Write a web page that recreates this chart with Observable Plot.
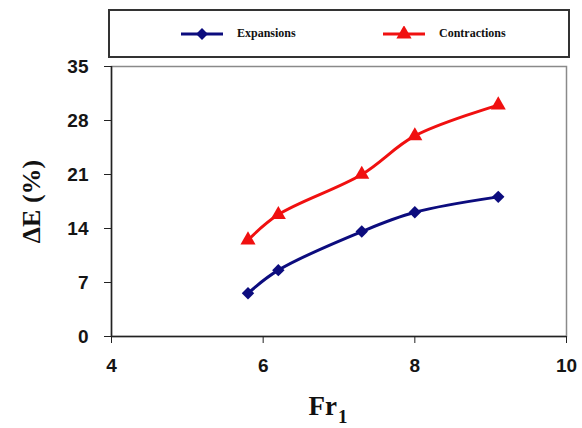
<!DOCTYPE html>
<html>
<head>
<meta charset="utf-8">
<script src="https://cdn.jsdelivr.net/npm/d3@7"></script>
<script src="https://cdn.jsdelivr.net/npm/@observablehq/plot@0.6"></script>
<style>
  html, body { margin: 0; padding: 0; background: #fff; }
  #wrap { position: relative; width: 582px; height: 428px; overflow: hidden; }
  #legend {
    position: absolute; left: 108px; top: 9px; width: 462px; height: 49px;
    box-sizing: border-box; border: 2px solid #333; background: #fff;
    font-family: "Liberation Serif", "Times New Roman", serif; font-weight: bold; font-size: 12px; color: #111;
  }
  .item { position: absolute; top: 0; height: 45px; display: flex; align-items: center; }
  .item svg { display: block; margin-right: 13px; }
</style>
</head>
<body>
<div id="wrap">
  <div id="chart"></div>
  <div id="legend"></div>
</div>
<script>
// Relative energy loss ΔE (%) against the upstream Froude number Fr1
const froude = [5.8, 6.2, 7.3, 8.0, 9.1];
const expansions = [5.6, 8.6, 13.6, 16.1, 18.1];
const contractions = [12.5, 15.8, 21.0, 26.0, 30.0];
const seriesNames = ["Expansions", "Contractions"];
const seriesColors = ["#0c0c7e", "#f01010"];
const seriesSymbols = ["diamond2", "triangle"];
const xTicks = [4, 6, 8, 10];
const yTicks = [0, 7, 14, 21, 28, 35];

const rows = [
  ...froude.map((x, i) => ({x, y: expansions[i], s: seriesNames[0]})),
  ...froude.map((x, i) => ({x, y: contractions[i], s: seriesNames[1]}))
];

const serif = "'Liberation Serif', 'Times New Roman', serif";

const chart = Plot.plot({
  width: 582,
  height: 428,
  marginLeft: 111,
  marginRight: 16,
  marginTop: 66,
  marginBottom: 92,
  style: {fontFamily: "'Liberation Sans', Arial, sans-serif", fontSize: "19px", fontWeight: "bold", color: "#151515", background: "#fff"},
  x: {domain: [4, 10]},
  y: {domain: [0, 35]},
  color: {domain: seriesNames, range: seriesColors},
  symbol: {domain: seriesNames, range: seriesSymbols},
  marks: [
    Plot.frame({stroke: "#8a8a8a", strokeWidth: 1.5}),
    Plot.ruleX([4], {stroke: "#222", strokeWidth: 1.5}),
    Plot.ruleY([0], {stroke: "#222", strokeWidth: 1.5}),
    Plot.axisX({ticks: xTicks, tickFormat: d3.format("d"), tickSize: 7, tickPadding: 15, label: null, stroke: "#222"}),
    Plot.axisY({ticks: yTicks, tickFormat: d3.format("d"), tickSize: 7, tickPadding: 16, label: null, stroke: "#222"}),
    Plot.line(rows, {x: "x", y: "y", z: "s", stroke: "s", strokeWidth: 3, curve: "catmull-rom"}),
    Plot.dot(rows, {x: "x", y: "y", symbol: "s", fill: "s", stroke: null, r: 5.6}),
    Plot.text(["ΔE (%)"], {frameAnchor: "left", dx: -80, rotate: -90, fontFamily: serif, fontSize: 26, fontWeight: "bold", fill: "#111", textAnchor: "middle", lineAnchor: "middle"}),
    Plot.text(["Fr"], {frameAnchor: "bottom", dx: -2, dy: 70, fontFamily: serif, fontSize: 27, fontWeight: "bold", fill: "#111", textAnchor: "end", lineAnchor: "middle"}),
    Plot.text(["1"], {frameAnchor: "bottom", dx: -1, dy: 80, fontFamily: serif, fontSize: 19, fontWeight: "bold", fill: "#111", textAnchor: "start", lineAnchor: "middle"})
  ]
});
document.getElementById("chart").appendChild(chart);

// Legend: line sample with its marker, then the series name
const legend = document.getElementById("legend");
const itemLeft = [70, 272];
seriesNames.forEach((name, i) => {
  const item = document.createElement("div");
  item.className = "item";
  item.style.left = itemLeft[i] + "px";
  const ns = "http://www.w3.org/2000/svg";
  const svg = document.createElementNS(ns, "svg");
  svg.setAttribute("width", 44);
  svg.setAttribute("height", 16);
  const ln = document.createElementNS(ns, "line");
  ln.setAttribute("x1", 1); ln.setAttribute("x2", 43);
  ln.setAttribute("y1", 8); ln.setAttribute("y2", 8);
  ln.setAttribute("stroke", seriesColors[i]); ln.setAttribute("stroke-width", 3);
  svg.appendChild(ln);
  const sym = document.createElementNS(ns, "path");
  const shape = i === 0 ? d3.symbolDiamond2 : d3.symbolTriangle;
  sym.setAttribute("d", d3.symbol(shape, i === 0 ? 90 : 100)());
  sym.setAttribute("transform", "translate(22,8)");
  sym.setAttribute("fill", seriesColors[i]);
  svg.appendChild(sym);
  item.appendChild(svg);
  const label = document.createElement("span");
  label.textContent = name;
  item.appendChild(label);
  legend.appendChild(item);
});
</script>
</body>
</html>
